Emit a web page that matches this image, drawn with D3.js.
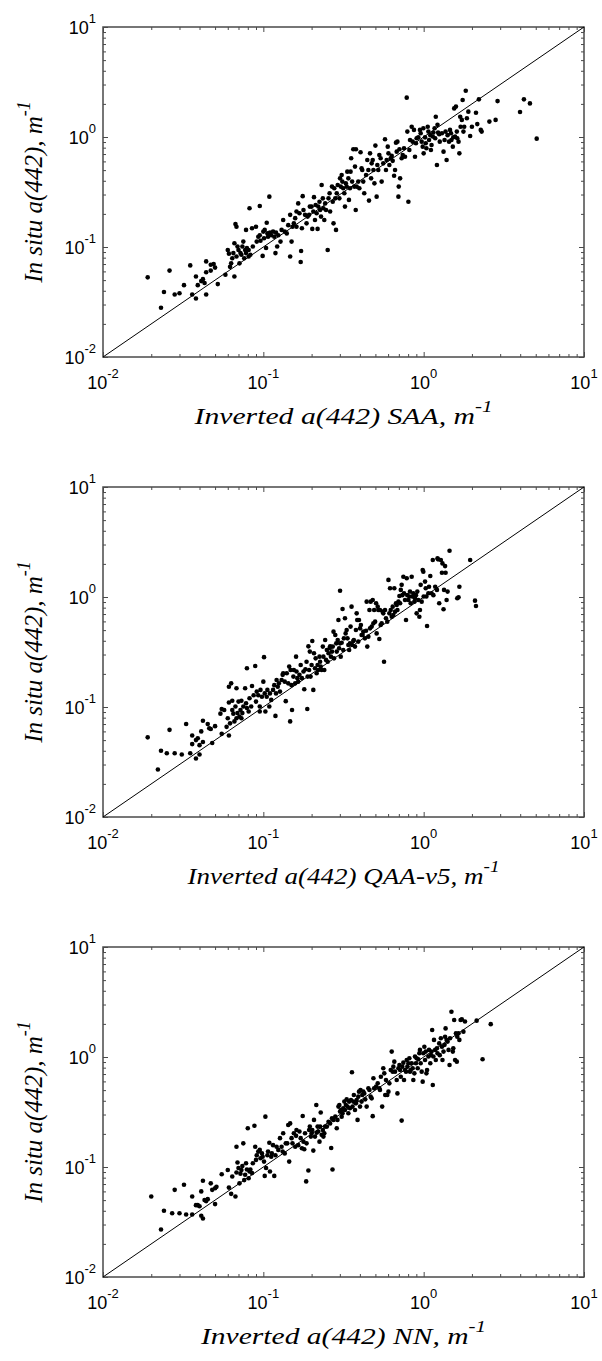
<!DOCTYPE html>
<html>
<head>
<meta charset="utf-8">
<script src="https://cdn.jsdelivr.net/npm/d3@7"></script>
<style>
  body { margin: 0; background: #fff; }
  svg { display: block; }
</style>
</head>
<body>
<div id="main"></div>
<script>
// in situ vs inverted a(442), m^-1
// each entry: [inverted, in situ]
var saaPoints = [
  [0.019,0.053],[0.023,0.028],[0.024,0.039],[0.026,0.061],[0.028,0.037],[0.030,0.038],[0.032,0.045],[0.035,0.068],
  [0.036,0.037],[0.038,0.034],[0.038,0.054],[0.039,0.045],[0.041,0.049],[0.042,0.051],[0.043,0.047],[0.044,0.074],
  [0.044,0.037],[0.044,0.059],[0.047,0.061],[0.047,0.069],[0.049,0.070],[0.050,0.065],[0.052,0.046],[0.058,0.056],
  [0.060,0.094],[0.061,0.087],[0.062,0.066],[0.063,0.071],[0.064,0.079],[0.065,0.088],[0.066,0.108],[0.066,0.054],
  [0.067,0.162],[0.068,0.153],[0.068,0.082],[0.069,0.101],[0.070,0.094],[0.071,0.071],[0.072,0.088],[0.073,0.085],
  [0.074,0.101],[0.075,0.112],[0.076,0.079],[0.077,0.094],[0.078,0.143],[0.078,0.088],[0.079,0.098],[0.081,0.082],
  [0.081,0.094],[0.082,0.225],[0.083,0.085],[0.085,0.148],[0.086,0.101],[0.090,0.153],[0.091,0.112],[0.093,0.124],
  [0.095,0.236],[0.095,0.128],[0.096,0.114],[0.099,0.083],[0.100,0.138],[0.101,0.120],[0.102,0.143],[0.104,0.098],
  [0.105,0.166],[0.106,0.133],[0.107,0.124],[0.109,0.287],[0.110,0.135],[0.112,0.128],[0.115,0.138],[0.117,0.124],
  [0.119,0.088],[0.120,0.135],[0.122,0.101],[0.124,0.128],[0.128,0.112],[0.130,0.143],[0.133,0.176],[0.136,0.138],
  [0.140,0.133],[0.143,0.158],[0.147,0.082],[0.147,0.196],[0.150,0.112],[0.152,0.153],[0.155,0.164],[0.158,0.183],
  [0.161,0.210],[0.161,0.153],[0.165,0.249],[0.168,0.203],[0.171,0.073],[0.172,0.092],[0.174,0.148],[0.176,0.290],
  [0.178,0.217],[0.182,0.196],[0.186,0.164],[0.189,0.189],[0.193,0.196],[0.195,0.233],[0.200,0.233],[0.202,0.146],
  [0.205,0.210],[0.207,0.284],[0.210,0.176],[0.212,0.241],[0.215,0.203],[0.218,0.146],[0.220,0.233],[0.224,0.258],
  [0.226,0.217],[0.229,0.189],[0.231,0.366],[0.235,0.277],[0.237,0.225],[0.240,0.176],[0.243,0.249],[0.246,0.217],
  [0.252,0.094],[0.255,0.277],[0.259,0.308],[0.261,0.210],[0.268,0.354],[0.271,0.258],[0.274,0.164],[0.277,0.342],
  [0.281,0.277],[0.284,0.143],[0.287,0.308],[0.291,0.366],[0.298,0.277],[0.301,0.421],[0.304,0.354],[0.308,0.451],
  [0.311,0.393],[0.315,0.342],[0.320,0.308],[0.323,0.233],[0.327,0.379],[0.331,0.354],[0.334,0.484],[0.339,0.421],
  [0.342,0.268],[0.347,0.342],[0.350,0.484],[0.353,0.640],[0.358,0.393],[0.364,0.773],[0.369,0.354],[0.373,0.538],
  [0.377,0.217],[0.378,0.773],[0.382,0.354],[0.391,0.393],[0.397,0.342],[0.404,0.726],[0.410,0.519],[0.414,0.501],
  [0.420,0.393],[0.426,0.308],[0.437,0.451],[0.445,0.618],[0.452,0.501],[0.456,0.264],[0.463,0.710],[0.470,0.421],
  [0.474,0.576],[0.481,0.618],[0.486,0.501],[0.493,0.379],[0.500,0.835],[0.509,0.287],[0.514,0.556],[0.521,0.501],
  [0.529,0.686],[0.539,0.640],[0.547,0.393],[0.560,0.576],[0.574,0.953],[0.582,0.501],[0.588,0.618],[0.597,0.817],
  [0.603,0.710],[0.611,0.556],[0.623,0.640],[0.632,0.673],[0.641,0.607],[0.654,0.445],[0.663,0.501],[0.672,0.888],
  [0.679,0.736],[0.686,0.907],[0.696,0.287],[0.699,0.354],[0.706,0.773],[0.713,0.421],[0.729,0.640],[0.740,0.686],
  [0.754,0.789],[0.765,0.662],[0.784,2.28],[0.791,1.12],[0.803,0.258],[0.814,0.762],[0.822,0.939],[0.842,1.24],
  [0.854,0.907],[0.870,1.16],[0.883,0.662],[0.895,0.876],[0.904,0.973],[0.926,0.993],[0.948,1.16],[0.958,1.08],
  [0.972,0.907],[0.986,0.817],[0.995,1.20],[1.00,0.710],[1.02,0.993],[1.03,0.876],[1.04,0.789],[1.06,1.24],
  [1.07,1.12],[1.08,0.939],[1.10,1.04],[1.11,0.762],[1.12,0.845],[1.14,1.01],[1.15,1.10],[1.17,1.20],
  [1.18,0.973],[1.19,1.53],[1.21,0.556],[1.22,1.29],[1.23,1.10],[1.25,1.06],[1.26,0.907],[1.30,1.08],
  [1.33,0.736],[1.35,0.939],[1.37,1.12],[1.39,0.618],[1.41,1.04],[1.44,0.907],[1.46,1.16],[1.48,1.08],
  [1.49,0.939],[1.52,0.817],[1.53,0.993],[1.55,1.82],[1.57,1.01],[1.59,1.89],[1.61,1.12],[1.62,0.973],
  [1.65,0.907],[1.67,0.710],[1.69,1.53],[1.70,1.24],[1.73,1.43],[1.75,2.17],[1.77,1.12],[1.79,1.24],
  [1.83,2.63],[1.86,1.48],[1.90,1.70],[1.95,1.02],[2.00,1.24],[2.12,1.66],[2.16,1.31],[2.21,2.20],
  [2.27,1.16],[2.30,1.12],[2.57,1.38],[2.81,1.43],[2.89,2.12],[3.99,1.69],[4.22,2.20],[4.60,2.02],
  [5.07,0.966]
];

var qaaPoints = [
  [0.019,0.053],[0.022,0.027],[0.023,0.040],[0.025,0.038],[0.026,0.062],[0.028,0.038],[0.031,0.037],[0.033,0.070],
  [0.035,0.038],[0.036,0.055],[0.036,0.046],[0.038,0.034],[0.038,0.050],[0.039,0.052],[0.040,0.045],[0.040,0.037],
  [0.041,0.060],[0.042,0.048],[0.042,0.075],[0.045,0.070],[0.046,0.064],[0.047,0.063],[0.048,0.047],[0.050,0.067],
  [0.054,0.087],[0.055,0.096],[0.055,0.057],[0.057,0.094],[0.059,0.066],[0.060,0.079],[0.061,0.055],[0.061,0.153],
  [0.061,0.110],[0.062,0.071],[0.063,0.164],[0.064,0.094],[0.064,0.114],[0.065,0.087],[0.066,0.074],[0.067,0.101],
  [0.068,0.079],[0.068,0.148],[0.069,0.088],[0.070,0.112],[0.071,0.082],[0.072,0.094],[0.073,0.114],[0.073,0.079],
  [0.074,0.088],[0.075,0.101],[0.077,0.148],[0.078,0.108],[0.079,0.225],[0.079,0.098],[0.081,0.091],[0.082,0.120],
  [0.084,0.101],[0.085,0.155],[0.087,0.128],[0.089,0.236],[0.090,0.112],[0.091,0.138],[0.093,0.128],[0.095,0.091],
  [0.095,0.101],[0.096,0.143],[0.098,0.124],[0.100,0.170],[0.101,0.284],[0.102,0.133],[0.103,0.091],[0.105,0.124],
  [0.106,0.143],[0.109,0.101],[0.110,0.133],[0.112,0.116],[0.115,0.143],[0.117,0.158],[0.119,0.083],[0.120,0.133],
  [0.121,0.176],[0.123,0.153],[0.125,0.164],[0.127,0.138],[0.130,0.176],[0.132,0.196],[0.133,0.203],[0.136,0.170],
  [0.138,0.113],[0.140,0.203],[0.143,0.164],[0.145,0.233],[0.147,0.074],[0.148,0.217],[0.150,0.158],[0.151,0.094],
  [0.154,0.189],[0.155,0.217],[0.158,0.164],[0.160,0.287],[0.161,0.210],[0.163,0.183],[0.165,0.170],[0.168,0.196],
  [0.171,0.241],[0.174,0.183],[0.178,0.210],[0.180,0.145],[0.183,0.220],[0.186,0.258],[0.188,0.096],[0.189,0.189],
  [0.191,0.356],[0.193,0.217],[0.195,0.319],[0.197,0.189],[0.200,0.241],[0.202,0.398],[0.205,0.143],[0.207,0.308],
  [0.210,0.225],[0.212,0.277],[0.215,0.203],[0.218,0.241],[0.220,0.217],[0.224,0.287],[0.226,0.258],[0.228,0.233],
  [0.231,0.217],[0.235,0.354],[0.237,0.287],[0.240,0.217],[0.243,0.407],[0.246,0.268],[0.249,0.330],[0.252,0.258],
  [0.255,0.308],[0.259,0.342],[0.261,0.356],[0.264,0.287],[0.268,0.319],[0.271,0.354],[0.274,0.484],[0.276,0.277],
  [0.281,0.451],[0.285,0.379],[0.287,0.319],[0.291,0.407],[0.294,0.618],[0.297,0.342],[0.301,1.14],[0.301,0.379],
  [0.304,0.287],[0.308,0.384],[0.312,0.778],[0.315,0.330],[0.318,0.421],[0.323,0.640],[0.326,0.467],[0.331,0.501],
  [0.335,0.421],[0.339,0.366],[0.343,0.330],[0.347,0.379],[0.350,0.538],[0.355,0.817],[0.358,0.366],[0.364,0.398],
  [0.367,0.407],[0.373,0.354],[0.378,0.501],[0.382,0.710],[0.385,0.618],[0.391,0.393],[0.395,0.618],[0.401,0.519],
  [0.406,0.556],[0.410,0.451],[0.416,0.451],[0.420,0.484],[0.430,0.421],[0.437,0.494],[0.441,0.907],[0.445,0.354],
  [0.452,0.436],[0.459,0.762],[0.463,0.519],[0.467,0.907],[0.474,0.538],[0.481,0.939],[0.486,0.576],[0.491,0.762],
  [0.498,0.597],[0.505,0.876],[0.509,0.467],[0.517,0.817],[0.521,0.762],[0.529,0.415],[0.534,0.762],[0.539,0.556],
  [0.547,0.576],[0.555,0.736],[0.560,0.710],[0.566,0.258],[0.574,0.762],[0.582,0.640],[0.593,0.597],[0.603,1.43],
  [0.611,0.710],[0.617,1.20],[0.623,0.762],[0.632,0.662],[0.641,0.817],[0.647,0.686],[0.656,1.20],[0.663,0.736],
  [0.672,0.876],[0.679,0.845],[0.686,0.762],[0.696,0.907],[0.706,1.02],[0.713,0.876],[0.720,1.16],[0.729,1.29],
  [0.736,1.04],[0.747,1.53],[0.754,1.08],[0.765,0.939],[0.776,0.618],[0.784,1.48],[0.791,1.04],[0.803,0.939],
  [0.814,1.01],[0.822,1.12],[0.830,0.876],[0.842,1.53],[0.850,1.01],[0.862,1.08],[0.875,0.907],[0.883,0.973],
  [0.895,1.04],[0.904,0.710],[0.913,1.12],[0.926,0.939],[0.940,0.662],[0.948,0.762],[0.958,1.29],[0.972,0.907],
  [0.986,1.76],[0.995,1.70],[1.00,1.01],[1.02,1.38],[1.03,1.20],[1.04,1.01],[1.05,0.545],[1.07,1.08],
  [1.08,1.24],[1.10,1.55],[1.12,1.08],[1.14,2.17],[1.15,1.04],[1.18,1.24],[1.21,1.16],[1.22,2.25],
  [1.23,2.20],[1.25,0.876],[1.28,2.17],[1.30,1.66],[1.31,2.02],[1.33,0.773],[1.34,1.16],[1.36,1.91],
  [1.37,1.66],[1.39,0.939],[1.41,1.12],[1.45,2.63],[1.62,0.973],[1.65,0.993],[1.67,1.24],[1.95,2.17],
  [2.09,0.926],[2.12,0.828]
];

var nnPoints = [
  [0.020,0.054],[0.023,0.027],[0.024,0.040],[0.027,0.038],[0.028,0.062],[0.030,0.038],[0.032,0.069],[0.033,0.037],
  [0.036,0.037],[0.036,0.054],[0.038,0.045],[0.039,0.045],[0.040,0.044],[0.041,0.060],[0.041,0.036],[0.042,0.034],
  [0.042,0.075],[0.043,0.050],[0.044,0.049],[0.045,0.051],[0.047,0.071],[0.048,0.062],[0.050,0.064],[0.050,0.046],
  [0.051,0.066],[0.055,0.086],[0.060,0.094],[0.061,0.065],[0.063,0.057],[0.064,0.082],[0.067,0.054],[0.068,0.089],
  [0.068,0.153],[0.069,0.110],[0.070,0.098],[0.071,0.071],[0.072,0.087],[0.073,0.094],[0.074,0.102],[0.075,0.164],
  [0.076,0.076],[0.077,0.085],[0.078,0.108],[0.079,0.095],[0.080,0.225],[0.081,0.079],[0.082,0.091],[0.083,0.095],
  [0.085,0.088],[0.086,0.108],[0.088,0.237],[0.089,0.153],[0.090,0.116],[0.091,0.128],[0.093,0.138],[0.095,0.143],
  [0.096,0.120],[0.098,0.133],[0.099,0.124],[0.101,0.112],[0.102,0.083],[0.103,0.287],[0.104,0.098],[0.106,0.128],
  [0.107,0.138],[0.109,0.166],[0.110,0.091],[0.112,0.124],[0.113,0.133],[0.115,0.158],[0.117,0.083],[0.119,0.128],
  [0.121,0.153],[0.124,0.143],[0.127,0.183],[0.130,0.153],[0.132,0.138],[0.133,0.203],[0.136,0.133],[0.138,0.164],
  [0.141,0.164],[0.143,0.241],[0.145,0.112],[0.147,0.249],[0.150,0.183],[0.152,0.164],[0.155,0.203],[0.158,0.153],
  [0.160,0.192],[0.161,0.217],[0.165,0.158],[0.168,0.210],[0.171,0.183],[0.174,0.148],[0.176,0.291],[0.178,0.170],
  [0.180,0.145],[0.182,0.203],[0.185,0.074],[0.186,0.164],[0.191,0.093],[0.193,0.217],[0.195,0.233],[0.198,0.189],
  [0.200,0.203],[0.202,0.217],[0.205,0.141],[0.207,0.268],[0.210,0.189],[0.214,0.366],[0.215,0.205],[0.218,0.233],
  [0.220,0.210],[0.224,0.170],[0.226,0.233],[0.228,0.313],[0.231,0.196],[0.235,0.217],[0.237,0.189],[0.240,0.203],
  [0.243,0.233],[0.249,0.233],[0.255,0.258],[0.261,0.249],[0.265,0.149],[0.268,0.277],[0.270,0.095],[0.274,0.268],
  [0.281,0.287],[0.287,0.225],[0.290,0.268],[0.294,0.354],[0.298,0.366],[0.301,0.319],[0.305,0.330],[0.308,0.287],
  [0.312,0.308],[0.315,0.342],[0.320,0.393],[0.323,0.330],[0.327,0.366],[0.331,0.412],[0.335,0.354],[0.339,0.308],
  [0.343,0.393],[0.347,0.342],[0.352,0.407],[0.357,0.726],[0.360,0.354],[0.364,0.393],[0.367,0.451],[0.373,0.330],
  [0.378,0.379],[0.382,0.407],[0.387,0.268],[0.391,0.436],[0.395,0.484],[0.401,0.354],[0.404,0.501],[0.410,0.393],
  [0.414,0.451],[0.420,0.484],[0.426,0.467],[0.432,0.412],[0.441,0.354],[0.452,0.519],[0.459,0.501],[0.467,0.436],
  [0.474,0.421],[0.481,0.290],[0.486,0.640],[0.491,0.519],[0.505,0.538],[0.517,0.576],[0.529,0.519],[0.534,0.501],
  [0.541,0.662],[0.551,0.354],[0.560,0.789],[0.568,0.710],[0.576,0.451],[0.582,0.618],[0.593,0.451],[0.603,0.484],
  [0.611,0.576],[0.623,0.762],[0.632,1.12],[0.641,0.736],[0.647,0.817],[0.656,0.907],[0.663,0.736],[0.679,0.618],
  [0.686,0.467],[0.696,0.789],[0.706,0.845],[0.713,0.762],[0.720,0.662],[0.729,0.264],[0.736,0.817],[0.747,0.888],
  [0.754,0.618],[0.765,0.762],[0.776,0.736],[0.784,0.939],[0.791,0.817],[0.803,0.876],[0.814,0.973],[0.822,0.736],
  [0.830,0.762],[0.842,0.876],[0.854,0.789],[0.862,0.618],[0.875,0.710],[0.883,1.01],[0.895,0.876],[0.904,0.973],
  [0.918,0.789],[0.926,0.953],[0.940,1.08],[0.948,1.16],[0.958,0.876],[0.972,0.736],[0.986,0.597],[0.995,1.08],
  [1.01,1.24],[1.02,0.939],[1.03,1.12],[1.04,0.710],[1.05,0.762],[1.07,1.01],[1.08,1.16],[1.10,0.876],
  [1.11,1.04],[1.12,1.12],[1.13,1.76],[1.14,0.556],[1.15,1.01],[1.16,1.43],[1.18,1.16],[1.19,0.939],
  [1.21,1.20],[1.22,1.08],[1.25,1.33],[1.26,1.04],[1.28,1.48],[1.30,1.24],[1.31,0.939],[1.33,1.12],
  [1.35,1.29],[1.36,1.53],[1.37,1.82],[1.39,1.43],[1.41,1.38],[1.43,1.16],[1.45,0.845],[1.46,1.48],
  [1.49,2.58],[1.52,1.12],[1.53,1.20],[1.55,2.17],[1.57,0.939],[1.59,1.64],[1.61,0.907],[1.62,1.53],
  [1.65,1.64],[1.67,1.43],[1.70,2.17],[1.73,2.20],[1.77,1.70],[1.81,2.10],[2.14,2.14],[2.33,0.953],
  [2.62,1.99]
];

var methods = ["SAA", "QAA-v5", "NN"];
var majorTicks = [0.01, 0.1, 1, 10];
var tickExponents = ["-2", "-1", "0", "1"];
var minorTicks = [0.02,0.03,0.04,0.05,0.06,0.07,0.08,0.09,
                  0.2,0.3,0.4,0.5,0.6,0.7,0.8,0.9,
                  2,3,4,5,6,7,8,9];

//////////////////////////////////////////////////////////////////////////////

var width = 481, height = 330;
var left = 103, tops = [27, 487, 947];
var axisColor = "#4a4a4a";
// the original figure is stretched sideways a little, so are its x titles
var xTitleLength = [298, 312, 285];

var svg = d3.select("#main")
        .append("svg")
        .attr("width", 602)
        .attr("height", 1361);

var x = d3.scaleLog().domain([0.01, 10]).range([0, width]);
var y = d3.scaleLog().domain([0.01, 10]).range([height, 0]);

function tickAxis(axis, values, size) {
    return axis.tickValues(values).tickSizeInner(-size).tickSizeOuter(0).tickFormat("");
}

function styleAxis(sel) {
    sel.select(".domain").remove();
    sel.selectAll("line").attr("stroke", axisColor).attr("stroke-width", 1);
}

function drawPanel(g, points, method, titleLength) {
    // four-sided inward ticks
    [[d3.axisBottom, "translate(0," + height + ")", x],
     [d3.axisTop, "translate(0,0)", x],
     [d3.axisLeft, "translate(0,0)", y],
     [d3.axisRight, "translate(" + width + ",0)", y]].forEach(function(a) {
         var [axisFn, tr, scale] = a;
         g.append("g").attr("transform", tr)
             .call(tickAxis(axisFn(scale), minorTicks, 3)).call(styleAxis);
         g.append("g").attr("transform", tr)
             .call(tickAxis(axisFn(scale), majorTicks, 5)).call(styleAxis);
     });

    g.append("rect")
        .attr("width", width)
        .attr("height", height)
        .attr("fill", "none")
        .attr("stroke", axisColor)
        .attr("stroke-width", 1.5);

    // 1:1 line
    g.append("line")
        .attr("x1", x(0.01)).attr("y1", y(0.01))
        .attr("x2", x(10)).attr("y2", y(10))
        .attr("stroke", "black")
        .attr("stroke-width", 1);

    g.append("g")
        .selectAll("circle")
        .data(points)
        .enter()
        .append("circle")
        .attr("cx", function(d) { return x(d[0]); })
        .attr("cy", function(d) { return y(d[1]); })
        .attr("r", 2.3)
        .attr("fill", "black");

    // tick labels: 10 with superscript exponent
    var xl = g.append("g")
            .selectAll("text")
            .data(majorTicks)
            .enter()
            .append("text")
            .attr("x", function(d) { return x(d); })
            .attr("y", height + 32)
            .attr("text-anchor", "middle")
            .style("font-family", "'Liberation Sans', Arial, sans-serif")
            .style("font-size", "18px")
            .text("10");
    xl.append("tspan")
        .attr("dy", -11)
        .style("font-size", "13px")
        .text(function(d, i) { return tickExponents[i]; });

    var yl = g.append("g")
            .selectAll("text")
            .data(majorTicks)
            .enter()
            .append("text")
            .attr("x", -7)
            .attr("y", function(d) { return y(d) + 6.5; })
            .attr("text-anchor", "end")
            .style("font-family", "'Liberation Sans', Arial, sans-serif")
            .style("font-size", "18px")
            .text("10");
    yl.append("tspan")
        .attr("dy", -11)
        .style("font-size", "13px")
        .text(function(d, i) { return tickExponents[i]; });

    var xt = g.append("text")
            .attr("x", width / 2)
            .attr("y", height + 67)
            .attr("text-anchor", "middle")
            .attr("textLength", titleLength)
            .attr("lengthAdjust", "spacingAndGlyphs")
            .style("font-family", "'Liberation Serif', 'Times New Roman', serif")
            .style("font-style", "italic")
            .style("font-size", "24px")
            .text("Inverted a(442) " + method + ", m");
    xt.append("tspan").attr("dy", -12).style("font-size", "17px").text("-1");

    var yt = g.append("text")
            .attr("transform", "translate(-61," + (height / 2) + ") rotate(-90)")
            .attr("text-anchor", "middle")
            .style("font-family", "'Liberation Serif', 'Times New Roman', serif")
            .style("font-style", "italic")
            .style("font-size", "25px")
            .text("In situ a(442), m");
    yt.append("tspan").attr("dy", -12).style("font-size", "18px").text("-1");
}

[saaPoints, qaaPoints, nnPoints].forEach(function(points, i) {
    var g = svg.append("g").attr("transform", "translate(" + left + "," + tops[i] + ")");
    drawPanel(g, points, methods[i], xTitleLength[i]);
});
</script>
</body>
</html>
